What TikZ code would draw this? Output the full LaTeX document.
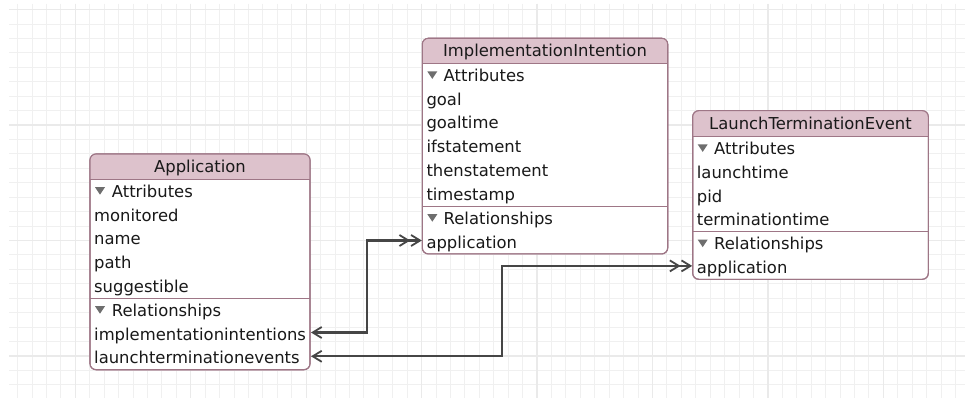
\documentclass[tikz,border=0pt]{standalone}
\usepackage{fontspec}
\setmainfont{DejaVu Sans}
\usetikzlibrary{arrows.meta}
\definecolor{hdr}{RGB}{221,194,204}
\definecolor{bord}{RGB}{158,118,134}
\definecolor{gmin}{RGB}{240,240,240}
\definecolor{gmaj}{RGB}{234,234,234}
\definecolor{txt}{RGB}{25,25,25}
\definecolor{conncol}{RGB}{70,70,70}
\definecolor{disccol}{RGB}{110,110,110}
\begin{document}
\begin{tikzpicture}[x=1pt,y=-1pt,
  ebox/.style={draw=bord, line width=1.1pt, fill=white, rounded corners=6pt, inner sep=0pt, outer sep=0pt, anchor=north west},
  eborder/.style={draw=bord, line width=1.1pt, rounded corners=6pt},
  etxt/.style={anchor=base west, inner sep=0pt, text=txt, font=\fontsize{16.4}{19}\selectfont},
  ehdr/.style={anchor=base, inner sep=0pt, text=txt, font=\fontsize{16.4}{19}\selectfont},
  sepline/.style={draw=bord, line width=1pt},
  disc/.style={fill=disccol},
  gridminor/.style={draw=gmin, line width=1pt},
  gridmajor/.style={draw=gmaj, line width=1.4pt},
  conn/.style={draw=conncol, line width=2.3pt, {Straight Barb[length=9pt,width=11pt,line width=1.8pt]}-{Straight Barb[length=9pt,width=11pt,line width=1.8pt]Straight Barb[length=9pt,width=11pt,line width=1.8pt]}}
]
\useasboundingbox (0,0) rectangle (965,398);
\fill[white] (0,0) rectangle (965,398);
% grid
\foreach \j in {0,...,26} {\pgfmathsetmacro\yy{9.6+14.43*\j}
  \draw[gridminor] (9,\yy) -- (965,\yy);}
\foreach \i in {0,...,65} {\pgfmathsetmacro\xx{17.6+14.43*\i}
  \draw[gridminor] (\xx,4) -- (\xx,398);}
\foreach \k in {0,...,3} {\pgfmathsetmacro\yy{9.6+115.44*\k}
  \draw[gridmajor] (9,\yy) -- (965,\yy);}
\foreach \k in {0,...,7} {\pgfmathsetmacro\xx{75.32+115.44*\k}
  \draw[gridmajor] (\xx,4) -- (\xx,398);}

% ---------- Application ----------
\node[ebox, minimum width=220pt, minimum height=215.7pt] (app) at (90,154) {};
\begin{scope}
  \clip[rounded corners=6pt] (app.north west) rectangle (app.south east);
  \fill[hdr] (app.north west) rectangle (310,179.3);
\end{scope}
\draw[eborder] (app.north west) rectangle (app.south east);
\draw[sepline] (90,179.3) -- (310,179.3);
\draw[sepline] (90,298.3) -- (310,298.3);
\node[ehdr] (apph) at (200,172.5) {Application};
\fill[disc] (95,187.2) -- (105,187.2) -- (100,194.7) -- cycle;
\node[etxt] (appattr) at (111.7,197.2) {Attributes};
\node[etxt] (appmon) at (94,221.0) {monitored};
\node[etxt] (appname) at (94,244.8) {name};
\node[etxt] (apppath) at (94,268.6) {path};
\node[etxt] (appsug) at (94,292.4) {suggestible};
\fill[disc] (95,306.2) -- (105,306.2) -- (100,313.7) -- cycle;
\node[etxt] (apprel) at (111.7,316.2) {Relationships};
\node[etxt] (appii) at (94,340.0) {implementationintentions};
\node[etxt] (applte) at (94,363.8) {launchterminationevents};

% ---------- ImplementationIntention ----------
\node[ebox, minimum width=245.4pt, minimum height=215.6pt] (ii) at (422.3,38.3) {};
\begin{scope}
  \clip[rounded corners=6pt] (ii.north west) rectangle (ii.south east);
  \fill[hdr] (ii.north west) rectangle (667.7,63.5);
\end{scope}
\draw[eborder] (ii.north west) rectangle (ii.south east);
\draw[sepline] (422.3,63.5) -- (667.7,63.5);
\draw[sepline] (422.3,206.3) -- (667.7,206.3);
\node[ehdr] (iih) at (545,56.7) {ImplementationIntention};
\fill[disc] (427.3,71.4) -- (437.3,71.4) -- (432.3,78.9) -- cycle;
\node[etxt] (iiattr) at (443.5,81.4) {Attributes};
\node[etxt] (iigoal) at (426.3,105.2) {goal};
\node[etxt] (iigt) at (426.3,129.0) {goaltime};
\node[etxt] (iiif) at (426.3,152.8) {ifstatement};
\node[etxt] (iithen) at (426.3,176.6) {thenstatement};
\node[etxt] (iits) at (426.3,200.4) {timestamp};
\fill[disc] (427.3,214.2) -- (437.3,214.2) -- (432.3,221.7) -- cycle;
\node[etxt] (iirel) at (443.5,224.2) {Relationships};
\node[etxt] (iiapp) at (426.3,248.0) {application};

% ---------- LaunchTerminationEvent ----------
\node[ebox, minimum width=235.6pt, minimum height=168.6pt] (lte) at (692.7,110.7) {};
\begin{scope}
  \clip[rounded corners=6pt] (lte.north west) rectangle (lte.south east);
  \fill[hdr] (lte.north west) rectangle (928.3,136.5);
\end{scope}
\draw[eborder] (lte.north west) rectangle (lte.south east);
\draw[sepline] (692.7,136.5) -- (928.3,136.5);
\draw[sepline] (692.7,231.7) -- (928.3,231.7);
\node[ehdr] (lteh) at (810.5,129.4) {LaunchTerminationEvent};
\fill[disc] (697.7,144.4) -- (707.7,144.4) -- (702.7,151.9) -- cycle;
\node[etxt] (lteattr) at (714,154.4) {Attributes};
\node[etxt] (ltelt) at (696.7,178.2) {launchtime};
\node[etxt] (ltepid) at (696.7,202.0) {pid};
\node[etxt] (ltett) at (696.7,225.8) {terminationtime};
\fill[disc] (697.7,239.6) -- (707.7,239.6) -- (702.7,247.1) -- cycle;
\node[etxt] (lterel) at (714,249.6) {Relationships};
\node[etxt] (lteapp) at (696.7,273.4) {application};

% ---------- connectors ----------
\path (app.east |- appii.base) ++(1,-7.5) coordinate (p1);
\path (app.east |- applte.base) ++(1,-7.5) coordinate (p2);
\path (ii.west |- iiapp.base) ++(-0.5,-7.5) coordinate (q1);
\path (lte.west |- lteapp.base) ++(-0.5,-7.5) coordinate (q2);
\draw[conn] (p1) -- ++(55.7,0) |- (q1);
\draw[conn] (p2) -- ++(190.7,0) |- (q2);
\end{tikzpicture}
\end{document}
